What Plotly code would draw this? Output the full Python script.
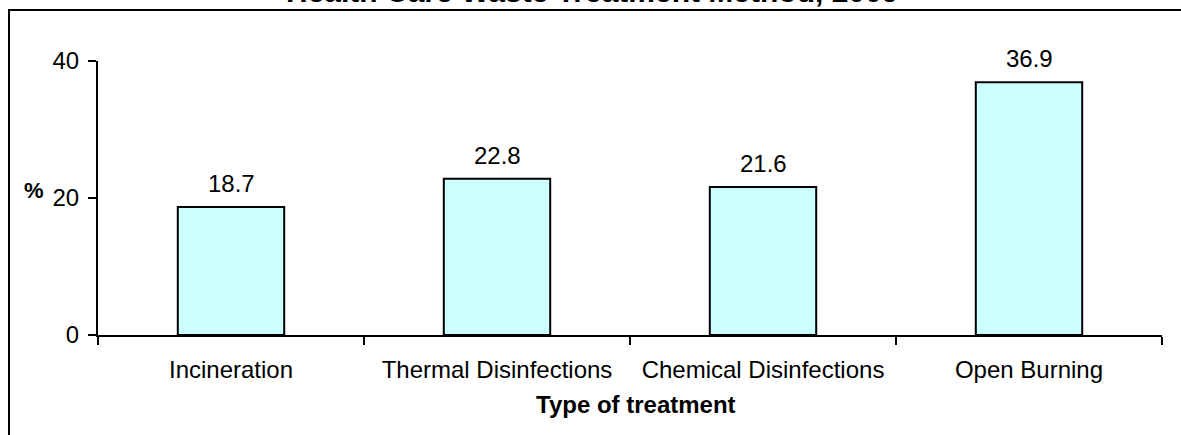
import plotly.graph_objects as go

categories = ["Incineration", "Thermal Disinfections", "Chemical Disinfections", "Open Burning"]
values = [18.7, 22.8, 21.6, 36.9]
value_labels = ["18.7", "22.8", "21.6", "36.9"]
y_ticks = [0, 20, 40]

FONT = "Liberation Sans, Arial, sans-serif"
W, H = 1181, 435
ML, MR, MT, MB = 98, 19, 61, 100
PW, PH = W - ML - MR, H - MT - MB

def px_to_paper_x(px):
    return (px - ML) / PW

def px_to_paper_y(py):
    return (H - MB - py) / PH

fig = go.Figure()
fig.add_trace(go.Bar(
    x=categories, y=values,
    marker=dict(color="#CCFFFF", line=dict(color="black", width=2)),
    width=0.4,
    hoverinfo="skip",
))

annotations = []
for c, v, t in zip(categories, values, value_labels):
    annotations.append(dict(x=c, y=v, xref="x", yref="y", text=t, showarrow=False,
                            yanchor="bottom", yshift=8,
                            font=dict(family=FONT, size=24, color="black")))
# y-axis title "%"
annotations.append(dict(x=px_to_paper_x(34), y=px_to_paper_y(190), xref="paper", yref="paper",
                        text="<b>%</b>", showarrow=False, xanchor="center", yanchor="middle",
                        font=dict(family=FONT, size=22, color="black")))
# x-axis title
annotations.append(dict(x=px_to_paper_x(636), y=px_to_paper_y(404), xref="paper", yref="paper",
                        text="<b>Type of treatment</b>", showarrow=False, xanchor="center", yanchor="middle",
                        font=dict(family=FONT, size=24, color="black")))
# chart title (clipped at the top edge, as in the reference)
annotations.append(dict(x=px_to_paper_x(592), y=px_to_paper_y(10), xref="paper", yref="paper",
                        text="<b>Health Care Waste Treatment Method, 2009</b>", showarrow=False,
                        xanchor="center", yanchor="bottom",
                        font=dict(family=FONT, size=30, color="black")))

shapes = [
    dict(type="line", xref="paper", yref="paper",
         x0=px_to_paper_x(9), x1=px_to_paper_x(9), y0=px_to_paper_y(H + 10), y1=px_to_paper_y(10),
         line=dict(color="black", width=2)),
    dict(type="line", xref="paper", yref="paper",
         x0=px_to_paper_x(8), x1=px_to_paper_x(W + 10), y0=px_to_paper_y(10), y1=px_to_paper_y(10),
         line=dict(color="black", width=2)),
]

fig.update_layout(
    width=W, height=H,
    margin=dict(l=ML, r=MR, t=MT, b=MB, pad=0),
    plot_bgcolor="white", paper_bgcolor="white",
    showlegend=False,
    font=dict(family=FONT, size=24, color="black"),
    annotations=annotations,
    shapes=shapes,
    xaxis=dict(type="category", range=[-0.5, 3.5], showline=True, linecolor="black", linewidth=2,
               ticks="outside", tickson="boundaries", ticklen=8, tickwidth=2, tickcolor="black",
               showgrid=False, zeroline=False, ticklabelstandoff=12,
               tickfont=dict(family=FONT, size=24, color="black")),
    yaxis=dict(range=[0, 40], tickvals=y_ticks, ticktext=[str(t) for t in y_ticks],
               showline=True, linecolor="black", linewidth=2,
               ticks="outside", ticklen=8, tickwidth=2, tickcolor="black",
               showgrid=False, zeroline=False, ticklabelstandoff=4,
               tickfont=dict(family=FONT, size=24, color="black")),
)

fig.write_html("out.html", config={"displayModeBar": False},
               post_script="document.body.style.margin='0';document.body.style.overflow='hidden';")
